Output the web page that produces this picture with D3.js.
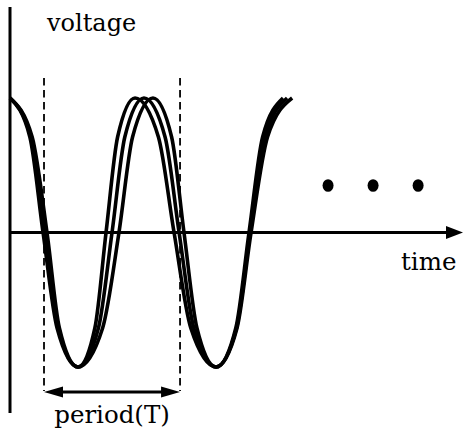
<!DOCTYPE html>
<html>
<head>
<meta charset="utf-8">
<script src="https://cdn.jsdelivr.net/npm/d3@7"></script>
<style>
  html, body { margin: 0; padding: 0; background: #fff; }
  svg { display: block; }
  text { font-family: "DejaVu Serif", serif; fill: #000; }
</style>
</head>
<body>
<div id="chart"></div>
<script>
// wave levels shared by all three traces (peak -> crossing -> trough ...)
const waveLevels = [1, 0.71, 0, -0.71, -1, -0.71, 0, 0.71, 1, 0.71, 0, -0.71, -1, -0.71, 0, 0.71, 1];

// time of each level, in periods for each trace
const timesA = [0, 0.146, 0.243, 0.346, 0.5, 0.624, 0.706, 0.791, 0.919, 1.091, 1.206, 1.329, 1.515, 1.660, 1.757, 1.857, 2.007];
const timesB = [0, 0.154, 0.257, 0.354, 0.5, 0.650, 0.750, 0.844, 0.985, 1.140, 1.243, 1.351, 1.515, 1.665, 1.765, 1.874, 2.037];
const timesC = [0, 0.163, 0.272, 0.363, 0.5, 0.681, 0.801, 0.901, 1.051, 1.188, 1.279, 1.374, 1.515, 1.669, 1.772, 1.893, 2.074];

// the "..." continuation dots
const dotTimes = [2.338, 2.669, 3.0];
const dotLevel = 0.35;

// period marker: one full cycle between two zero crossings
const periodStart = 0.25;
const periodEnd = 1.25;

const axisLabels = { y: "voltage", x: "time", period: "period(T)" };

const width = 476, height = 435;
const timeMax = 3.33;

const svg = d3.select('#chart').append('svg')
    .attr('width', width)
    .attr('height', height);

const xScale = d3.scaleLinear().domain([0, timeMax]).range([10, 463]);
const yScale = d3.scaleLinear().domain([-1, 1]).range([367, 98]);

const y0 = yScale(0);

// vertical axis
svg.append('line')
    .attr('x1', xScale(0)).attr('x2', xScale(0))
    .attr('y1', 7).attr('y2', 413)
    .attr('stroke', '#000')
    .attr('stroke-width', 3);

// horizontal axis with arrow
svg.append('line')
    .attr('x1', xScale(0)).attr('x2', xScale(timeMax) - 12)
    .attr('y1', y0).attr('y2', y0)
    .attr('stroke', '#000')
    .attr('stroke-width', 3);

svg.append('path')
    .attr('d', `M${xScale(timeMax)},${y0} L${xScale(timeMax) - 17},${y0 - 6.5} L${xScale(timeMax) - 17},${y0 + 6.5} Z`)
    .attr('fill', '#000');

// dashed period markers
[periodStart, periodEnd].forEach(t => {
    svg.append('line')
        .attr('x1', xScale(t)).attr('x2', xScale(t))
        .attr('y1', 78).attr('y2', 391)
        .attr('stroke', '#000')
        .attr('stroke-width', 1.8)
        .attr('stroke-dasharray', '7.5,4.5');
});

// the waves
const line = d3.line()
    .x(d => xScale(d[0]))
    .y(d => yScale(d[1]))
    .curve(d3.curveMonotoneX);

[timesA, timesB, timesC].forEach(times => {
    svg.append('path')
        .datum(times.map((t, i) => [t, waveLevels[i]]))
        .attr('fill', 'none')
        .attr('stroke', '#000')
        .attr('stroke-width', 3.6)
        .attr('stroke-linejoin', 'round')
        .attr('d', line);
});

// period arrow
const ay = 392;
const xa = xScale(periodStart), xb = xScale(periodEnd);
svg.append('line')
    .attr('x1', xa + 10).attr('x2', xb - 10)
    .attr('y1', ay).attr('y2', ay)
    .attr('stroke', '#000')
    .attr('stroke-width', 3);
svg.append('path')
    .attr('d', `M${xa},${ay} L${xa + 19},${ay - 5.5} L${xa + 19},${ay + 5.5} Z`)
    .attr('fill', '#000');
svg.append('path')
    .attr('d', `M${xb},${ay} L${xb - 19},${ay - 5.5} L${xb - 19},${ay + 5.5} Z`)
    .attr('fill', '#000');

// dots
svg.selectAll('ellipse.dot')
    .data(dotTimes)
    .join('ellipse')
    .attr('class', 'dot')
    .attr('cx', d => xScale(d))
    .attr('cy', yScale(dotLevel))
    .attr('rx', 5.5)
    .attr('ry', 6.3)
    .attr('fill', '#000');

// labels
svg.append('text')
    .attr('x', 47).attr('y', 31)
    .attr('font-size', '24px')
    .text(axisLabels.y);

svg.append('text')
    .attr('x', 401).attr('y', 270)
    .attr('font-size', '24.5px')
    .text(axisLabels.x);

svg.append('text')
    .attr('x', (xa + xb) / 2).attr('y', 423)
    .attr('text-anchor', 'middle')
    .attr('font-size', '24.5px')
    .text(axisLabels.period);
</script>
</body>
</html>
